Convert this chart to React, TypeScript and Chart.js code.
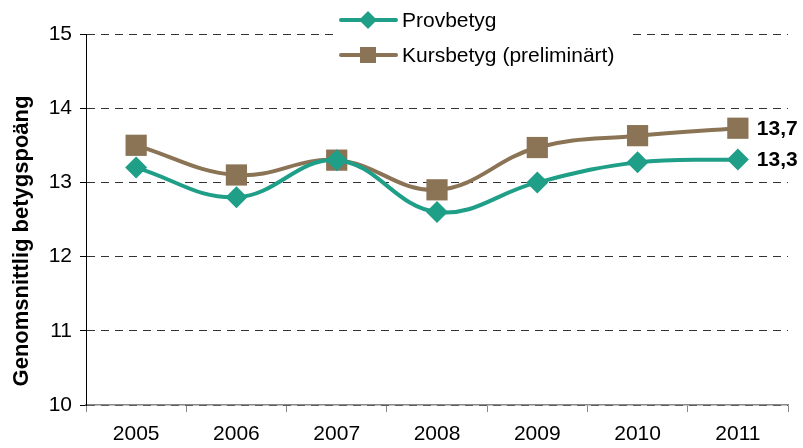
import React, { useEffect, useRef } from "react";
import { Chart, registerables } from "chart.js";

Chart.register(...registerables);

const years = ["2005", "2006", "2007", "2008", "2009", "2010", "2011"];
const provbetyg = [13.2, 12.8, 13.3, 12.6, 13.0, 13.27, 13.31];
const kursbetyg = [13.5, 13.1, 13.3, 12.9, 13.47, 13.63, 13.73];
const endLabels = ["13,3", "13,7"];
const seriesNames = ["Provbetyg", "Kursbetyg (preliminärt)"];
const yTitle = "Genomsnittlig betygspoäng";

const TEAL = "#1f9e88";
const BROWN = "#8b7355";
const FONT = "'Liberation Sans', Arial, sans-serif";

const overlayPlugin = {
  id: "overlay",
  afterDraw(chart: any) {
    const ctx = chart.ctx;
    ctx.save();
    ctx.translate(22, 241);
    ctx.rotate(-Math.PI / 2);
    ctx.font = `bold 22px ${FONT}`;
    ctx.fillStyle = "#000";
    ctx.textAlign = "center";
    ctx.textBaseline = "middle";
    ctx.fillText(yTitle, 0, 0);
    ctx.restore();

    ctx.save();
    ctx.font = `bold 21px ${FONT}`;
    ctx.fillStyle = "#000";
    ctx.textAlign = "left";
    ctx.textBaseline = "middle";
    [0, 1].forEach((di) => {
      const meta = chart.getDatasetMeta(di);
      const pt = meta.data[meta.data.length - 1];
      ctx.fillText(endLabels[di], pt.x + 19, pt.y + 1);
    });
    ctx.restore();

    ctx.save();
    ctx.fillStyle = "#fff";
    ctx.fillRect(334, 4, 294, 66);
    const rows = [
      { y: 20, color: TEAL, style: "diamond" },
      { y: 55, color: BROWN, style: "square" },
    ];
    rows.forEach((r, i) => {
      ctx.strokeStyle = r.color;
      ctx.lineWidth = 4;
      ctx.lineCap = "round";
      ctx.beginPath();
      ctx.moveTo(341, r.y);
      ctx.lineTo(396, r.y);
      ctx.stroke();
      ctx.fillStyle = r.color;
      ctx.beginPath();
      if (r.style === "diamond") {
        ctx.moveTo(368, r.y - 9);
        ctx.lineTo(377, r.y);
        ctx.lineTo(368, r.y + 9);
        ctx.lineTo(359, r.y);
        ctx.closePath();
      } else {
        ctx.rect(360, r.y - 8, 16, 16);
      }
      ctx.fill();
      ctx.fillStyle = "#000";
      ctx.font = `21px ${FONT}`;
      ctx.textAlign = "left";
      ctx.textBaseline = "middle";
      ctx.fillText(seriesNames[i], 402, r.y + 1);
    });
    ctx.restore();
  },
};

export default function App() {
  const ref = useRef<HTMLCanvasElement>(null);
  useEffect(() => {
    if (!ref.current) return;
    const chart = new Chart(ref.current, {
      type: "line",
      data: {
        labels: years,
        datasets: [
          {
            label: seriesNames[0],
            data: provbetyg,
            borderColor: TEAL,
            backgroundColor: TEAL,
            borderWidth: 4,
            tension: 0.4,
            pointStyle: "rectRot",
            pointRadius: 11,
            pointBorderWidth: 0,
            pointBackgroundColor: TEAL,
          },
          {
            label: seriesNames[1],
            data: kursbetyg,
            borderColor: BROWN,
            backgroundColor: BROWN,
            borderWidth: 4,
            tension: 0.4,
            pointStyle: "rect",
            pointRadius: 15,
            pointBorderWidth: 0,
            pointBackgroundColor: BROWN,
          },
        ],
      },
      options: {
        responsive: false,
        animation: false,
        layout: { padding: { top: 34, right: 12, left: 0, bottom: 0 } },
        plugins: { legend: { display: false }, tooltip: { enabled: false } },
        scales: {
          x: {
            offset: true,
            grid: {
              offset: true,
              drawOnChartArea: false,
              drawTicks: true,
              tickLength: 7,
              color: "#888",
            },
            border: { color: "#888", width: 1.5 },
            ticks: {
              color: "#000",
              font: { family: FONT, size: 21 },
              padding: 10,
              maxRotation: 0,
            },
            afterFit: (s: any) => {
              s.height = 43;
            },
          },
          y: {
            min: 10,
            max: 15,
            ticks: {
              stepSize: 1,
              color: "#000",
              font: { family: FONT, size: 21 },
              padding: 8,
            },
            grid: {
              color: "#333",
              tickColor: "#000",
              tickLength: 6,
              tickBorderDash: [],
              lineWidth: 1,
            },
            border: { color: "#000", width: 1, dash: [8, 6] },
            afterFit: (s: any) => {
              s.width = 86;
            },
          },
        },
      },
      plugins: [overlayPlugin],
    });
    return () => chart.destroy();
  }, []);
  return (
    <div style={{ position: "fixed", left: 0, top: 0, width: 803, height: 448, background: "#fff" }}>
      <canvas ref={ref} width={803} height={448} />
    </div>
  );
}
